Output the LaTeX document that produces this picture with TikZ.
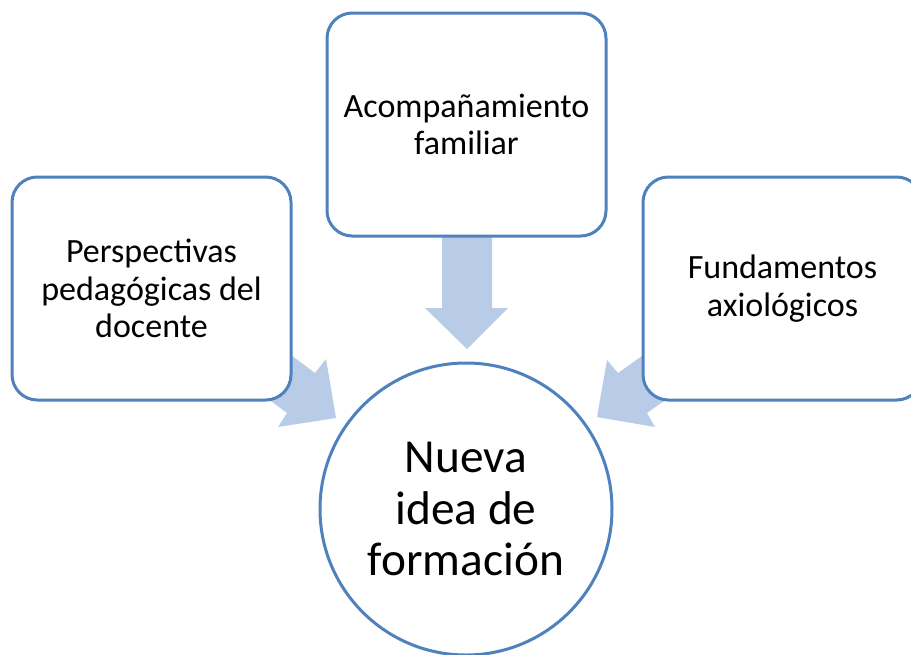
\documentclass[tikz,border=0pt]{standalone}
\usepackage{fontspec}
\setmainfont{Carlito}
\definecolor{bordblue}{RGB}{79,129,189}
\definecolor{arrblue}{RGB}{184,204,232}
\tikzset{
  box/.style={draw=bordblue, line width=2.25pt, fill=white, rounded corners=19pt,
    minimum width=209.25pt, minimum height=167.25pt, align=center,
    font=\fontsize{25.5pt}{28pt}\selectfont, inner sep=0pt},
  bigcirc/.style={draw=bordblue, line width=2.25pt, fill=white, circle,
    minimum size=219pt, align=center, inner sep=0pt,
    font=\fontsize{35.5pt}{38.5pt}\selectfont},
  fatarrow/.style={fill=arrblue, draw=none}
}
\begin{document}
\begin{tikzpicture}[x=0.75pt, y=-0.75pt]
\useasboundingbox (0,0) rectangle (911,654);
% arrows (behind boxes)
\fill[fatarrow] (442,220) -- (492,220) -- (492,308) -- (508,308) -- (467,349) -- (425,308) -- (442,308) -- cycle;
\fill[fatarrow] (267,337) -- (315,373) -- (326,359) -- (336,418) -- (278,427) -- (287,413) -- (239,377) -- cycle;
\fill[fatarrow] (666,339) -- (618,373) -- (607,360) -- (597,417) -- (655,427) -- (647,413) -- (695,379) -- cycle;
% boxes
\node[box] (persp) at (151.5,288.5) {Perspectivas\\pedagógicas del\\docente};
\node[box] (acomp) at (466.5,124.5) {Acompañamiento\\familiar};
\node[box] (fund) at (782.5,288.5) {Fundamentos\\axiológicos};
\node[bigcirc] (nueva) at (466,509) {Nueva\\idea de\\formación};
\end{tikzpicture}
\end{document}
